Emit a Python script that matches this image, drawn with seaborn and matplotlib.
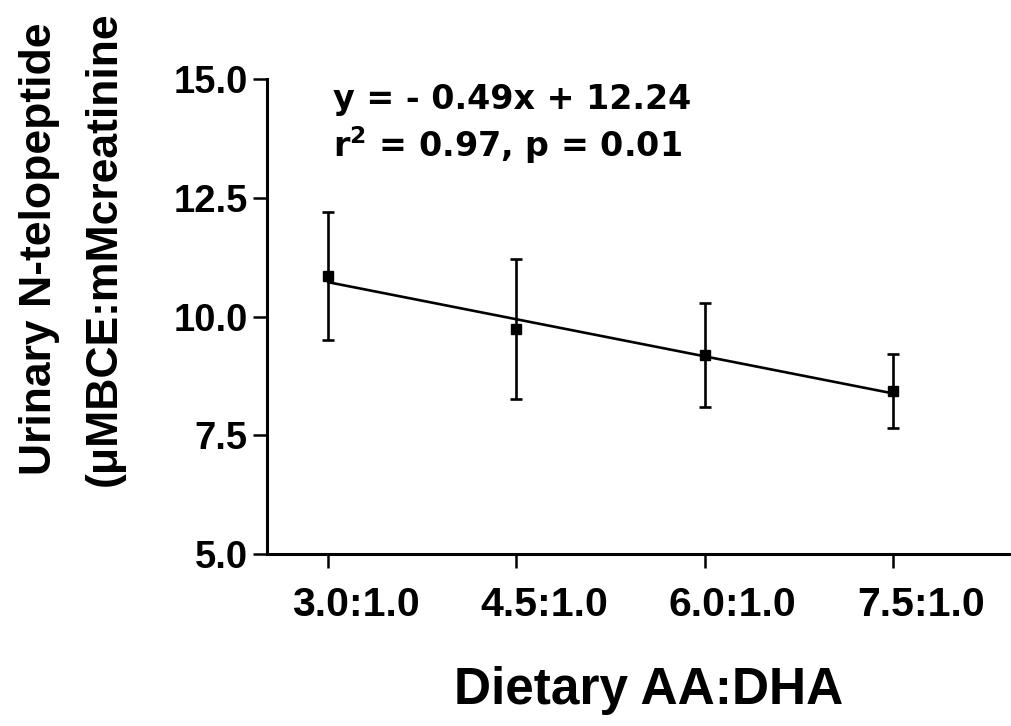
import matplotlib

matplotlib.use("Agg")

import matplotlib.pyplot as plt
import matplotlib.transforms as mtransforms
import pandas as pd
import seaborn as sns

# values
ratios = [3.0, 4.5, 6.0, 7.5]
ratio_labels = ["3.0:1.0", "4.5:1.0", "6.0:1.0", "7.5:1.0"]
ntx_mean = [10.85, 9.74, 9.19, 8.43]
ntx_sem = [1.35, 1.47, 1.10, 0.78]
y_ticks = [5.0, 7.5, 10.0, 12.5, 15.0]

df = pd.DataFrame({"ratio": ratios, "ntx": ntx_mean, "sem": ntx_sem})

sns.set_style("ticks")
plt.rcParams["font.family"] = ["Liberation Sans", "DejaVu Sans"]
plt.rcParams["font.weight"] = "bold"
for key in ["text.color", "axes.labelcolor", "xtick.color", "ytick.color", "axes.edgecolor"]:
    plt.rcParams[key] = "black"

fig = plt.figure(figsize=(10.11, 7.26), dpi=100)
ax = fig.add_axes([267 / 1011, 0.237, 744 / 1011, 0.654])

sns.regplot(data=df, x="ratio", y="ntx", ci=None, scatter=False, color="black",
            line_kws={"linewidth": 1.9}, ax=ax)
ax.errorbar(df["ratio"], df["ntx"], yerr=df["sem"], fmt="s", color="black",
            markersize=7, capsize=4.5, elinewidth=1.9, capthick=1.9)

ax.set_xlim(2.514, 8.44)
ax.set_ylim(5.0, 15.0)
ax.set_yticks(y_ticks)
ax.set_yticklabels([f"{v:.1f}" for v in y_ticks])
ax.set_xticks(ratios)
ax.set_xticklabels(ratio_labels)
sns.despine(ax=ax)
for side in ["left", "bottom"]:
    ax.spines[side].set_linewidth(2.2)
    ax.spines[side].set_color("black")

ax.tick_params(axis="both", direction="out", length=10, width=1.8, color="black",
               labelcolor="black")
ax.tick_params(axis="y", labelsize=27.5, pad=4)
ax.tick_params(axis="x", labelsize=29.5, pad=13)
for lab in ax.get_xticklabels() + ax.get_yticklabels():
    lab.set_fontweight("bold")
# category labels sit a little right of their ticks in the original
shift = mtransforms.ScaledTranslation(0.28, 0, fig.dpi_scale_trans)
for lab in ax.get_xticklabels():
    lab.set_transform(lab.get_transform() + shift)

ax.set_xlabel("Dietary AA:DHA", fontsize=37, fontweight="bold", color="black")
ax.xaxis.set_label_coords(0.513, -0.235)
ax.set_ylabel("Urinary N-telopeptide\n(μMBCE:mMcreatinine", fontsize=32,
              fontweight="bold", linespacing=1.75, color="black")
ax.yaxis.label.set_va("center")
ax.yaxis.set_label_coords(-0.262, 0.642)

ax.text(0.0887, 0.937, "y = - 0.49x + 12.24", transform=ax.transAxes, color="black",
        fontsize=24, fontweight="bold", family="DejaVu Sans", va="baseline")
ax.text(0.0887, 0.836, r"r$^{\mathbf{2}}$ = 0.97, p = 0.01", transform=ax.transAxes,
        color="black", fontsize=24, fontweight="bold", family="DejaVu Sans",
        va="baseline")

fig.savefig("out.png", dpi=100, facecolor="white")
